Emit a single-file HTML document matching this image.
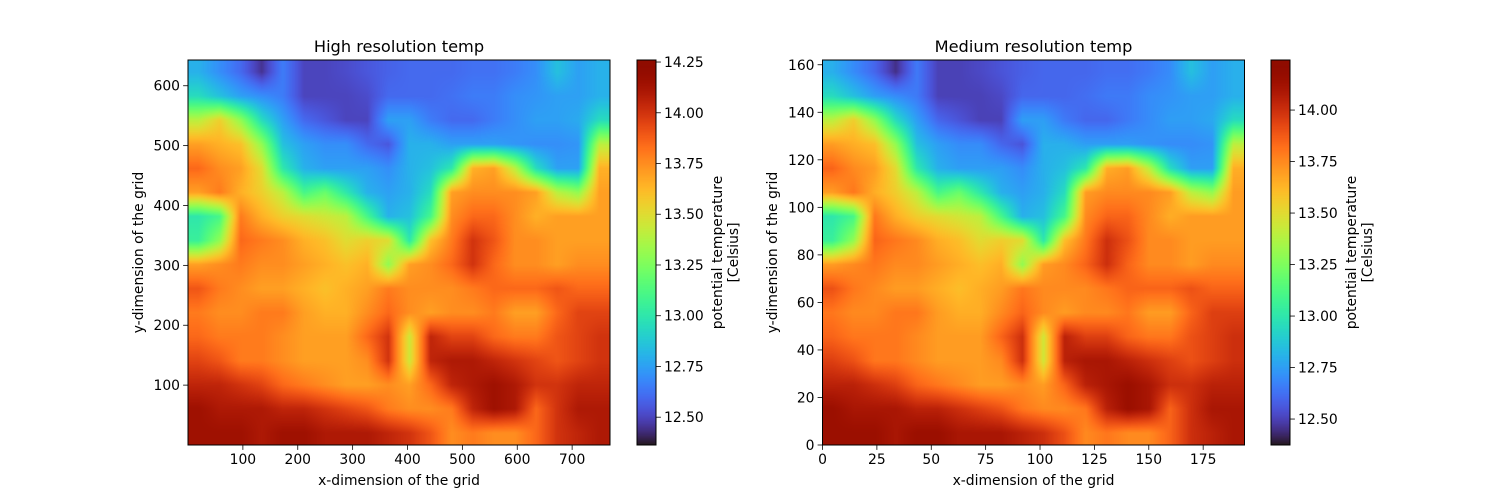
<!DOCTYPE html>
<html><head><meta charset="utf-8"><style>
html,body{margin:0;padding:0;background:#fff;}
#fig{position:relative;width:1500px;height:500px;overflow:hidden;font-family:"DejaVu Sans","Liberation Sans",sans-serif;}
canvas{position:absolute;display:block;}
svg{position:absolute;left:0;top:0;}
text{font-family:"DejaVu Sans","Liberation Sans",sans-serif;fill:#000;}
</style></head><body>
<div id="fig">
<canvas id="heatL" style="left:188px;top:60px" width="422" height="385"></canvas>
<canvas id="cbL" style="left:637px;top:60px" width="19" height="385"></canvas>
<canvas id="heatR" style="left:822px;top:60px" width="422" height="385"></canvas>
<canvas id="cbR" style="left:1271px;top:60px" width="19" height="385"></canvas>
<svg id="ov" width="1500" height="500"></svg>
</div>
<script>
// ---- data: coarse temperature field (rows top->bottom, 20 cols) ----
const temp = [
[12.8,12.7,12.6,12.45,12.65,12.5,12.5,12.52,12.55,12.58,12.6,12.6,12.6,12.62,12.62,12.65,12.7,12.85,12.75,12.8],
[12.95,12.85,12.75,12.7,12.65,12.5,12.5,12.5,12.52,12.6,12.6,12.6,12.62,12.65,12.65,12.7,12.72,12.75,12.75,12.8],
[13.4,13.55,13.3,12.95,12.75,12.6,12.55,12.5,12.5,12.75,12.75,12.65,12.6,12.6,12.65,12.7,12.75,12.75,12.78,12.95],
[13.7,13.65,13.6,13.3,12.85,12.75,12.7,12.7,12.6,12.55,12.8,12.8,12.75,12.75,12.75,12.72,12.7,12.7,12.72,13.4],
[13.85,13.75,13.7,13.5,13.0,12.8,12.75,12.75,12.75,12.7,12.8,12.85,13.0,13.65,13.7,13.4,12.95,12.75,12.75,13.65],
[13.7,13.8,13.65,13.55,13.4,13.1,13.2,13.0,12.8,12.75,12.8,12.95,13.7,13.75,13.75,13.75,13.7,13.4,13.3,13.7],
[13.0,13.1,13.8,13.65,13.55,13.5,13.45,13.4,13.1,12.8,12.85,13.1,13.75,13.85,13.85,13.75,13.65,13.7,13.7,13.7],
[13.05,13.3,13.85,13.8,13.75,13.65,13.6,13.5,13.55,13.5,13.0,13.6,13.8,14.0,13.9,13.75,13.75,13.7,13.7,13.7],
[13.7,13.75,13.8,13.75,13.75,13.7,13.65,13.6,13.65,13.3,13.7,13.75,13.85,14.0,13.85,13.75,13.75,13.7,13.75,13.75],
[13.9,13.8,13.75,13.7,13.7,13.65,13.6,13.65,13.7,13.8,13.75,13.75,13.75,13.8,13.85,13.85,13.85,13.9,13.85,13.85],
[13.8,13.75,13.75,13.8,13.8,13.7,13.65,13.65,13.75,13.85,13.75,13.7,13.75,13.75,13.8,13.7,13.7,13.85,13.95,13.95],
[13.85,13.8,13.8,13.8,13.75,13.7,13.7,13.7,13.85,14.0,13.45,14.05,13.95,13.95,13.85,13.8,13.8,13.9,13.95,14.0],
[13.95,13.9,13.8,13.8,13.75,13.7,13.7,13.7,13.75,14.0,13.45,14.05,14.1,14.1,14.05,14.0,13.95,13.9,13.95,14.0],
[14.05,14.05,14.0,13.95,13.85,13.8,13.75,13.7,13.7,13.75,13.7,13.85,14.05,14.1,14.15,14.1,14.0,14.0,14.05,14.05],
[14.15,14.1,14.1,14.1,14.05,14.05,14.0,13.95,13.9,13.8,13.75,13.75,13.8,14.05,14.15,14.1,13.85,14.0,14.1,14.1],
[14.15,14.15,14.15,14.1,14.15,14.15,14.1,14.1,14.1,14.05,14.0,13.9,13.75,13.8,13.75,13.75,13.85,14.0,14.05,14.1]
];
const xTicksL = [100,200,300,400,500,600,700];
const yTicksL = [100,200,300,400,500,600];
const cbTicksL = ["12.50","12.75","13.00","13.25","13.50","13.75","14.00","14.25"];
const xTicksR = [0,25,50,75,100,125,150,175];
const yTicksR = [0,20,40,60,80,100,120,140,160];
const cbTicksR = ["12.50","12.75","13.00","13.25","13.50","13.75","14.00"];
const rangeL = [12.363, 14.26];
const rangeR = [12.374, 14.243];

function turbo(x){
  x=Math.max(0,Math.min(1,x));
  const r=0.13572138+x*(4.61539260+x*(-42.66032258+x*(132.13108234+x*(-152.94239396+x*59.28637943))));
  const g=0.09140261+x*(2.19418839+x*(4.84296658+x*(-14.18503333+x*(4.27729857+x*2.82956604))));
  const b=0.10667330+x*(12.64194608+x*(-60.58204836+x*(110.36276771+x*(-89.90310912+x*27.34824973))));
  const c=v=>Math.max(0,Math.min(255,Math.round(v*255)));
  return [c(r),c(g),c(b)];
}
function sample(gx,gy){
  const R=temp.length,C=temp[0].length;
  gx=Math.max(0,Math.min(C-1,gx)); gy=Math.max(0,Math.min(R-1,gy));
  const i0=Math.min(C-2,Math.floor(gx)), j0=Math.min(R-2,Math.floor(gy));
  const fx=gx-i0, fy=gy-j0;
  const a=temp[j0][i0]*(1-fx)+temp[j0][i0+1]*fx;
  const b=temp[j0+1][i0]*(1-fx)+temp[j0+1][i0+1]*fx;
  return a*(1-fy)+b*fy;
}
function drawHeat(id,range){
  const cv=document.getElementById(id),ctx=cv.getContext('2d');
  const w=cv.width,h=cv.height,img=ctx.createImageData(w,h);
  const C=temp[0].length,R=temp.length;
  for(let py=0;py<h;py++){for(let px=0;px<w;px++){
    const v=sample((px+0.5)/w*C-0.5,(py+0.5)/h*R-0.5);
    const col=turbo((v-range[0])/(range[1]-range[0]));
    const k=(py*w+px)*4; img.data[k]=col[0];img.data[k+1]=col[1];img.data[k+2]=col[2];img.data[k+3]=255;
  }}
  ctx.putImageData(img,0,0);
}
function drawBar(id){
  const cv=document.getElementById(id),ctx=cv.getContext('2d');
  for(let py=0;py<cv.height;py++){
    const col=turbo(1-(py+0.5)/cv.height);
    ctx.fillStyle=`rgb(${col[0]},${col[1]},${col[2]})`;ctx.fillRect(0,py,cv.width,1);
  }
}
drawHeat('heatL',rangeL); drawHeat('heatR',rangeR); drawBar('cbL'); drawBar('cbR');

const NS="http://www.w3.org/2000/svg", ov=document.getElementById('ov');
function el(tag,attrs,txt){const e=document.createElementNS(NS,tag);for(const k in attrs)e.setAttribute(k,attrs[k]);if(txt!==undefined)e.textContent=txt;ov.appendChild(e);return e;}

function axes(cfg){
  const {L,T,W,H,xmax,ymax,xt,yt,title,tag}=cfg;
  const sx=v=>L+v*W/xmax, sy=v=>T+H-v*H/ymax;
  const f=el('rect',{x:L,y:T,width:W,height:H,fill:'none',stroke:'#000','stroke-width':1});
  
  
  xt.forEach(v=>{
    const x=sx(v);
    const t=el('line',{x1:x,x2:x,y1:T+H,y2:T+H+4.9,stroke:'#000','stroke-width':0.8});
    
    
    const l=el('text',{x:x,y:T+H+19,'font-size':13.9,'text-anchor':'middle'},String(v));
    
    
  });
  yt.forEach(v=>{
    const y=sy(v);
    const t=el('line',{x1:L-4.9,x2:L,y1:y,y2:y,stroke:'#000','stroke-width':0.8});
    
    
    const l=el('text',{x:L-8,y:y+5,'font-size':13.9,'text-anchor':'end'},String(v));
    
    
  });
  const tt=el('text',{x:L+W/2,y:T-8,'font-size':16.2,'text-anchor':'middle'},title);
  
  
  const xl=el('text',{x:L+W/2,y:T+H+40,'font-size':13.9,'text-anchor':'middle'},'x-dimension of the grid');
  
  
  const yx=cfg.ylabX, yy=T+H/2;
  const yl=el('text',{x:yx,y:yy,'font-size':13.9,'text-anchor':'middle',transform:`rotate(-90 ${yx} ${yy})`},'y-dimension of the grid');
  
  
}
function cbar(cfg){
  const {L,T,W,H,range,ticks,tag}=cfg;
  const sy=v=>T+H-(v-range[0])/(range[1]-range[0])*H;
  const f=el('rect',{x:L,y:T,width:W,height:H,fill:'none',stroke:'#000','stroke-width':1});
  
  
  ticks.forEach(s=>{
    const y=sy(parseFloat(s));
    const t=el('line',{x1:L+W,x2:L+W+4.9,y1:y,y2:y,stroke:'#000','stroke-width':0.8});
    
    
    const l=el('text',{x:L+W+8,y:y+5,'font-size':13.9},s);
    
    
  });
  const cx=L+W+66, cy=T+H/2;
  const a=el('text',{x:cx,y:cy,'font-size':13.9,'text-anchor':'middle',transform:`rotate(-90 ${cx} ${cy})`},'potential temperature');
  
  
  const b=el('text',{x:cx+16,y:cy,'font-size':13.9,'text-anchor':'middle',transform:`rotate(-90 ${cx+16} ${cy})`},'[Celsius]');
  
  
}
axes({L:188,T:60,W:422,H:385,xmax:769,ymax:643,xt:xTicksL,yt:yTicksL,title:'High resolution temp',tag:'high-res',ylabX:143});
cbar({L:637,T:60,W:19,H:385,range:rangeL,ticks:cbTicksL,tag:'high-res'});
axes({L:822.5,T:60,W:422,H:385,xmax:194,ymax:162,xt:xTicksR,yt:yTicksR,title:'Medium resolution temp',tag:'medium-res',ylabX:777});
cbar({L:1271,T:60,W:19,H:385,range:rangeR,ticks:cbTicksR,tag:'medium-res'});
</script>
</body></html>
